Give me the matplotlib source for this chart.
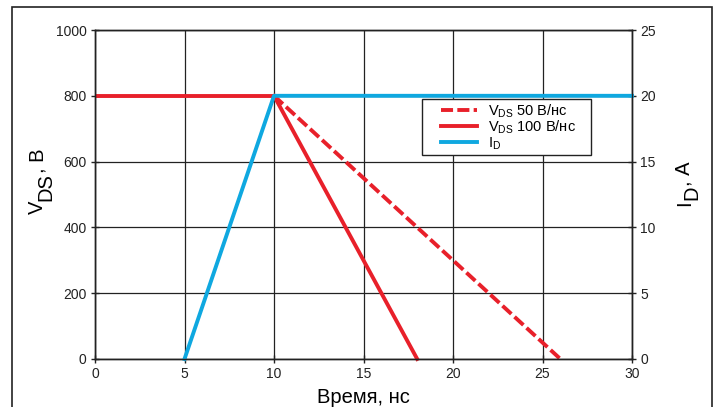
import matplotlib
matplotlib.use("Agg")
import matplotlib.pyplot as plt
from matplotlib.patches import Rectangle
from matplotlib.legend_handler import HandlerLine2D

plt.rcParams['font.family'] = ['Liberation Sans', 'DejaVu Sans']

# Data
t_vds_flat = [0, 10]
vds_flat = [800, 800]
t_vds_100 = [10, 18]
vds_100 = [800, 0]
t_vds_50 = [10, 26]
vds_50 = [800, 0]
t_id = [5, 10, 30]
id_vals = [0, 20, 20]

xticks = [0, 5, 10, 15, 20, 25, 30]
yticks_left = [0, 200, 400, 600, 800, 1000]
yticks_right = [0, 5, 10, 15, 20, 25]

legend_labels = [r'V$_{\mathregular{DS}}$ 50 В/нс',
                 r'V$_{\mathregular{DS}}$ 100 В/нс',
                 r'I$_{\mathregular{D}}$']
xlabel = 'Время, нс'
ylabel_left = ['V', 'DS', ', В']
ylabel_right = ['I', 'D', ', А']

red = '#e8202a'
blue = '#0fa8e0'
dark = '#222222'

W, H = 716, 407
fig = plt.figure(figsize=(W/100, H/100), dpi=100)
ax = fig.add_axes([95/W, 1-359/H, (632-95)/W, (359-30)/H])
ax2 = ax.twinx()

ax.set_xlim(0, 30)
ax.set_ylim(0, 1000)
ax2.set_ylim(0, 25)

ax.set_xticks(xticks)
ax.set_yticks(yticks_left)
ax2.set_yticks(yticks_right)
ax.grid(True, color=dark, linewidth=0.9)
ax.set_axisbelow(True)

for a in (ax, ax2):
    for s in a.spines.values():
        s.set_color(dark)
        s.set_linewidth(1.0)
    a.tick_params(direction='inout', length=6, width=1.0, labelsize=10,
                  colors=dark, pad=3)

lw = 2.8
l50, = ax.plot(t_vds_50, vds_50, color=red, lw=lw, ls=(0, (3.1, 1.1)),
               label=legend_labels[0])
l100, = ax.plot(t_vds_100, vds_100, color=red, lw=lw, label=legend_labels[1])
ax.plot(t_vds_flat, vds_flat, color=red, lw=lw, solid_capstyle='butt')
lid, = ax2.plot(t_id, id_vals, color=blue, lw=lw, label=legend_labels[2])
for ln in (l50, l100, lid):
    ln.set_clip_on(False)

ax.set_xlabel(xlabel, fontsize=14.5, labelpad=5)

fs_leg = 10.5
x0 = (422-95)/537
wbox = (591-422)/537
ytop = 1-(99-30)/329
hm = {ln: HandlerLine2D(xpad=1.1) for ln in (l50, l100, lid)}
leg = ax2.legend(handles=[l50, l100, lid], loc='upper left',
                 bbox_to_anchor=(x0, ytop, wbox, 0), mode='expand',
                 frameon=True, fancybox=False, edgecolor=dark,
                 framealpha=1, fontsize=fs_leg, handlelength=3.6,
                 borderpad=0.2, labelspacing=-0.08, handletextpad=0.7,
                 borderaxespad=0, handler_map=hm)
leg.get_frame().set_linewidth(1.0)

# Rotated axis labels composed of pieces (subscript of the same size, lowered)
def rotated_label(pieces, x_base, y_start, shift, fs):
    texts = []
    for i, p in enumerate(pieces):
        t = fig.text(0, 0, p, fontsize=fs, rotation=90, rotation_mode='anchor',
                     ha='left', va='baseline', color='black')
        texts.append(t)
    fig.canvas.draw()
    r = fig.canvas.get_renderer()
    y = y_start
    for i, t in enumerate(texts):
        xb = x_base + (shift if i == 1 else 0)
        t.set_position((xb/W, 1 - y/H))
        ext = t.get_window_extent(r)
        y -= ext.height

rotated_label(ylabel_left, 43, 214, 8, 14.5)
rotated_label(ylabel_right, 690, 206, 7, 14.5)

fig.patches.append(Rectangle((12/W, -0.05), (712-12)/W, 1.05-7/H,
                             transform=fig.transFigure, fill=False,
                             edgecolor=dark, linewidth=1.2))

fig.savefig('out.png', dpi=100)
